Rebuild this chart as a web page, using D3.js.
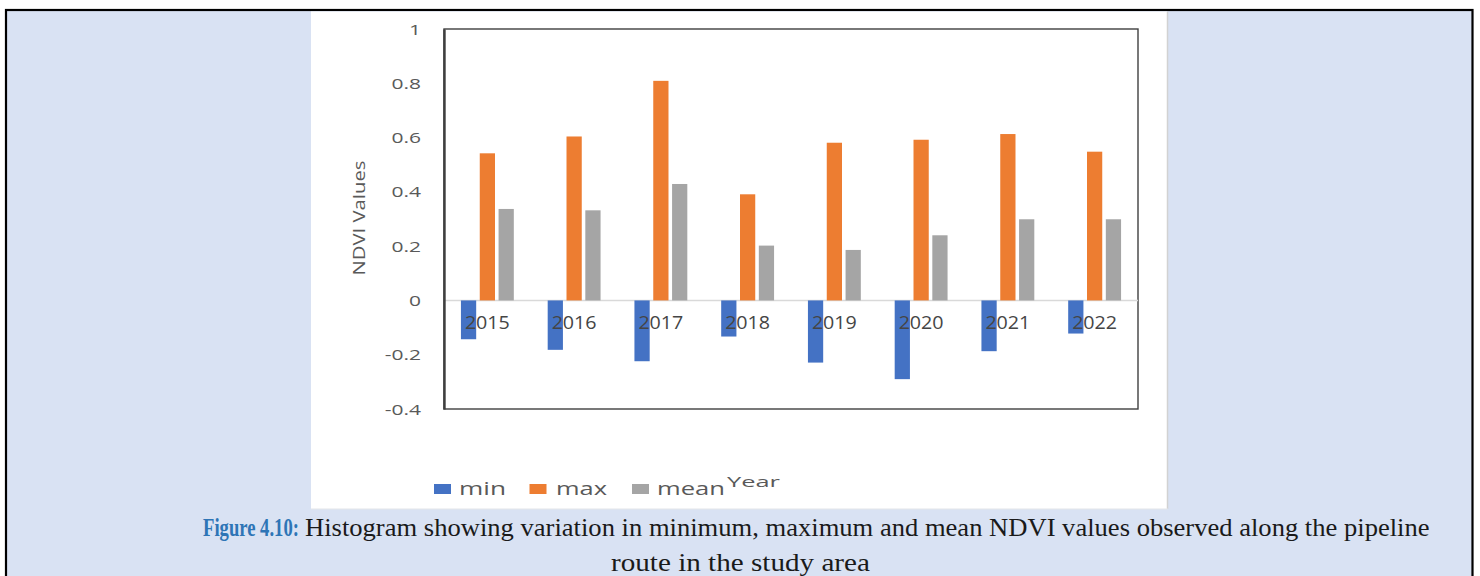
<!DOCTYPE html>
<html>
<head>
<meta charset="utf-8">
<script src="https://cdn.jsdelivr.net/npm/d3@7"></script>
<style>
  html, body { margin: 0; padding: 0; background: #ffffff; }
  svg { display: block; }
</style>
</head>
<body>
<svg id="chart" width="1480" height="576"></svg>
<script>
// ---- data ----
const categories = ["2015", "2016", "2017", "2018", "2019", "2020", "2021", "2022"];
const seriesNames = ["min", "max", "mean"];
const minValues  = [-0.143, -0.182, -0.224, -0.133, -0.229, -0.290, -0.187, -0.122];
const maxValues  = [0.542, 0.604, 0.809, 0.391, 0.581, 0.592, 0.613, 0.548];
const meanValues = [0.337, 0.332, 0.429, 0.202, 0.186, 0.240, 0.299, 0.299];
const tickValues = [-0.4, -0.2, 0, 0.2, 0.4, 0.6, 0.8, 1];
const tickLabels = ["-0.4", "-0.2", "0", "0.2", "0.4", "0.6", "0.8", "1"];
const yTitle = "NDVI Values";
const xTitle = "Year";
const captionLabel = "Figure 4.10:";
const captionLine1 = "Histogram showing variation in minimum, maximum and mean NDVI values observed along the pipeline";
const captionLine2 = "route in the study area";

// ---- styles ----
const colors = { min: "#4472C4", max: "#ED7D31", mean: "#A5A5A5" };
const seriesValues = { min: minValues, max: maxValues, mean: meanValues };

const svg = d3.select("#chart");

// scale a text horizontally so it spans exactly `width` pixels starting at x
function fitText(sel, x, yPos, width) {
  const w = sel.node().getComputedTextLength();
  sel.attr("x", 0).attr("y", 0)
    .attr("transform", `translate(${x},${yPos}) scale(${width / w},1)`);
}

// page background and frame
svg.append("rect").attr("x", 0).attr("y", 0).attr("width", 1480).attr("height", 576).attr("fill", "#ffffff");
svg.append("rect").attr("x", 6).attr("y", 10).attr("width", 1466.5).attr("height", 600)
  .attr("fill", "#D9E2F3").attr("stroke", "#000000").attr("stroke-width", 2.2);

// white chart panel
svg.append("rect").attr("x", 311).attr("y", 11.5).attr("width", 856).attr("height", 497.5).attr("fill", "#ffffff");
svg.append("line").attr("x1", 1167.5).attr("x2", 1167.5).attr("y1", 11.5).attr("y2", 509)
  .attr("stroke", "#d2d2d2").attr("stroke-width", 1.5);
svg.append("line").attr("x1", 311).attr("x2", 1168).attr("y1", 509).attr("y2", 509)
  .attr("stroke", "#e3e6ea").attr("stroke-width", 1.2);

// ---- scales ----
const plot = { left: 444, right: 1138, top: 29, bottom: 409 };
const x0 = d3.scaleBand().domain(categories).range([plot.left, plot.right]).paddingInner(0).paddingOuter(0);
const x1 = d3.scaleBand().domain(seriesNames).range([0, x0.bandwidth()]).paddingInner(0.19).paddingOuter(0.9);
const y = d3.scaleLinear().domain([-0.4, 1]).range([plot.bottom, plot.top]);

// plot border
svg.append("rect").attr("x", plot.left).attr("y", plot.top)
  .attr("width", plot.right - plot.left).attr("height", plot.bottom - plot.top)
  .attr("fill", "none").attr("stroke", "#3f3f3f").attr("stroke-width", 1.4);

// zero line
svg.append("line").attr("x1", plot.left).attr("x2", plot.right)
  .attr("y1", y(0)).attr("y2", y(0)).attr("stroke", "#d9d9d9").attr("stroke-width", 1.6);

// bars
const groups = svg.append("g").selectAll("g").data(categories).join("g")
  .attr("transform", d => `translate(${x0(d)},0)`);
groups.selectAll("rect")
  .data((d, i) => seriesNames.map(s => ({ s, v: seriesValues[s][i] })))
  .join("rect")
  .attr("x", d => x1(d.s))
  .attr("width", x1.bandwidth())
  .attr("y", d => Math.min(y(d.v), y(0)))
  .attr("height", d => Math.abs(y(d.v) - y(0)))
  .attr("fill", d => colors[d.s]);

// y axis
const yAxis = svg.append("g").attr("transform", `translate(${plot.left},0)`)
  .call(d3.axisLeft(y).tickValues(tickValues).tickSize(0)
    .tickFormat(d => tickLabels[tickValues.indexOf(d)]));
yAxis.select(".domain").attr("stroke", "#3f3f3f").attr("stroke-width", 2.4);
yAxis.selectAll("text")
  .attr("x", 0).attr("dy", "0.36em")
  .attr("transform", "translate(-23,0) scale(1.5,1)")
  .attr("font-family", "Open Sans").attr("font-size", 14).attr("fill", "#595959")
  .attr("text-anchor", "end");

// x axis (category labels over bars at zero)
const xAxis = svg.append("g").attr("transform", `translate(0,${y(0)})`)
  .call(d3.axisBottom(x0).tickSize(0));
xAxis.select(".domain").remove();
xAxis.selectAll("text")
  .attr("y", 28.5).attr("dy", 0)
  .attr("font-family", "Open Sans").attr("font-size", 18.5).attr("fill", "#454545")
  .attr("textLength", 45).attr("lengthAdjust", "spacingAndGlyphs");

// y title
svg.append("text")
  .attr("transform", "translate(365,218) rotate(-90)")
  .attr("text-anchor", "middle")
  .attr("font-family", "Open Sans").attr("font-size", 17).attr("fill", "#595959")
  .attr("textLength", 115).attr("lengthAdjust", "spacingAndGlyphs")
  .text(yTitle);

// legend
const legendX = [434, 529.5, 632];
const legendTextX = [459, 556, 657];
const legendTextW = [47, 51, 68];
const legend = svg.append("g").selectAll("g").data(seriesNames).join("g");
legend.append("rect")
  .attr("x", (d, i) => legendX[i]).attr("y", 484)
  .attr("width", 17).attr("height", 10).attr("fill", d => colors[d]);
legend.append("text")
  .attr("x", (d, i) => legendTextX[i]).attr("y", 495)
  .attr("font-family", "Open Sans").attr("font-size", 18).attr("fill", "#595959")
  .attr("textLength", (d, i) => legendTextW[i]).attr("lengthAdjust", "spacingAndGlyphs")
  .text(d => d);

// x title
svg.append("text")
  .attr("x", 727).attr("y", 487)
  .attr("font-family", "Open Sans").attr("font-size", 15).attr("fill", "#595959")
  .attr("textLength", 53).attr("lengthAdjust", "spacingAndGlyphs")
  .text(xTitle);

// caption
const cap0 = svg.append("text")
  .attr("font-family", "Liberation Serif").attr("font-size", 26).attr("font-weight", "bold")
  .attr("fill", "#2E75B6").text(captionLabel);
fitText(cap0, 203, 536, 96);
const cap1 = svg.append("text")
  .attr("font-family", "Liberation Serif").attr("font-size", 26).attr("fill", "#1a1a1a")
  .text(captionLine1);
fitText(cap1, 305, 536, 1125);
const cap2 = svg.append("text")
  .attr("font-family", "Liberation Serif").attr("font-size", 26).attr("fill", "#1a1a1a")
  .text(captionLine2);
fitText(cap2, 611, 571, 259);
</script>
</body>
</html>
